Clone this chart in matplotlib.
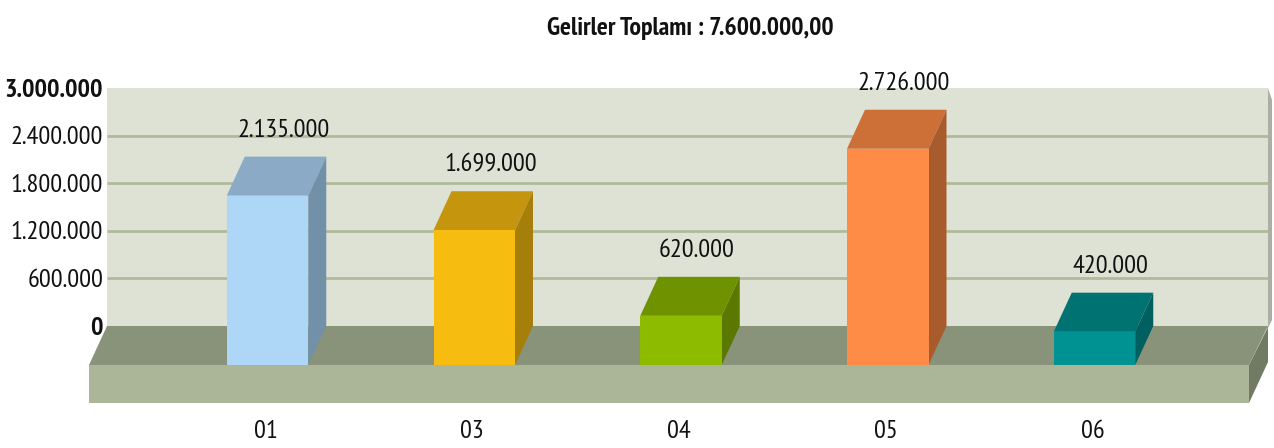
import numpy as np
import matplotlib
matplotlib.use('Agg')
import matplotlib.pyplot as plt
from matplotlib import font_manager

# veriler
kategoriler = ['01', '03', '04', '05', '06']
degerler = [2135000, 1699000, 620000, 2726000, 420000]
etiketler = ['2.135.000', '1.699.000', '620.000', '2.726.000', '420.000']
y_tikleri = [0, 600000, 1200000, 1800000, 2400000, 3000000]
y_etiketleri = ['0', '600.000', '1.200.000', '1.800.000', '2.400.000', '3.000.000']
baslik = 'Gelirler Toplamı : 7.600.000,00'

on_renk = ['#AED6F7', '#F6BC10', '#8DBB00', '#FF8C46', '#009292']
ust_renk = ['#8AAAC5', '#C5960D', '#6F9200', '#CC7038', '#007272']
yan_renk = ['#7290A8', '#A67F0B', '#5B7800', '#A85C2E', '#005F5F']

W, H = 1274, 448
adim = 206.75      # kategori araligi, piksel
x0 = 267.5         # ilk cubugun merkezi
y0 = 365           # on taban cizgisi
olcek = 238 / 3000000   # piksel / deger
dx, dy = 18, 39    # 3d derinlik

# dar yazi tipi yoksa Liberation Sans ile kucuk yaz
names = {f.name for f in font_manager.fontManager.ttflist}
if 'PT Sans Narrow' in names:
    aile = ['PT Sans Narrow', 'Liberation Sans']
    boy, boy_baslik = 19, 18.5
else:
    aile = ['Liberation Sans']
    boy, boy_baslik = 14.5, 14.5

fig = plt.figure(figsize=(W / 100, H / 100), dpi=100)
ax = fig.add_axes([0, 0, 1, 1])
# kategori ve deger eksenleri resmin tamamini kapliyor
ax.set_xlim(-x0 / adim, (W - x0) / adim)
ax.set_ylim(-(H - y0) / olcek, y0 / olcek)
ax.axis('off')

px = 1 / adim      # 1 piksel, x verisi
py = 1 / olcek     # 1 piksel, y verisi


def xp(p):
    return (p - x0) / adim


def yp(p):
    return (y0 - p) / olcek


def poly(noktalar, renk, z):
    xs = [xp(a) for a, b in noktalar]
    ys = [yp(b) for a, b in noktalar]
    ax.fill(xs, ys, color=renk, lw=0, zorder=z)


# duvar
poly([(1266, 88), (1268, 88), (1272, 100), (1272, 320), (1268, 328), (1266, 328)], '#A9AFA3', 1)
poly([(107, 88), (1268, 88), (1268, 326), (107, 326)], '#DDE2D5', 2)
for t in y_tikleri[1:-1]:
    ax.plot([xp(107), xp(1268)], [yp(326) + t] * 2, color='#B0BA9A', lw=2.0, zorder=3,
            solid_capstyle='butt')

# taban
poly([(107, 326), (89, 365), (1249, 365), (1268, 326)], '#889379', 4)
poly([(89, 365), (1249, 365), (1249, 403), (89, 403)], '#ABB699', 4)
poly([(1249, 365), (1268, 327), (1268, 362), (1249, 403)], '#717A63', 4)

# cubuklar
gen = 0.5 * 81.5 / adim
for i, d in enumerate(degerler):
    sol, sag = i - gen, i + gen
    ax.fill([sol, sag, sag, sol], [0, 0, d, d], color=on_renk[i], lw=0, zorder=6)
    ax.fill([sol, sag, sag + dx * px, sol + dx * px], [d, d, d + dy * py, d + dy * py],
            color=ust_renk[i], lw=0, zorder=5)
    ax.fill([sag, sag + dx * px, sag + dx * px, sag], [0, dy * py, d + dy * py, d],
            color=yan_renk[i], lw=0, zorder=5)
    ax.text(i + 16 * px, d + 65 * py, etiketler[i], ha='center', va='center',
            fontsize=boy, family=aile, color='#111111', zorder=8)
    ax.text(i - 2 * px, yp(431), kategoriler[i], ha='center', va='center',
            fontsize=boy, family=aile, color='#111111')

# deger ekseni yazilari
for t, e in zip(y_tikleri, y_etiketleri):
    kalin = t in (0, 3000000)
    ax.text(xp(103), yp(328) + t, e, ha='right', va='center', fontsize=boy, family=aile,
            color='#111111', fontweight='bold' if kalin else 'normal')

ax.text(xp(690.5), yp(28), baslik, ha='center', va='center', fontsize=boy_baslik, family=aile,
        fontweight='bold', color='#111111')

fig.savefig('out.png', dpi=100)
